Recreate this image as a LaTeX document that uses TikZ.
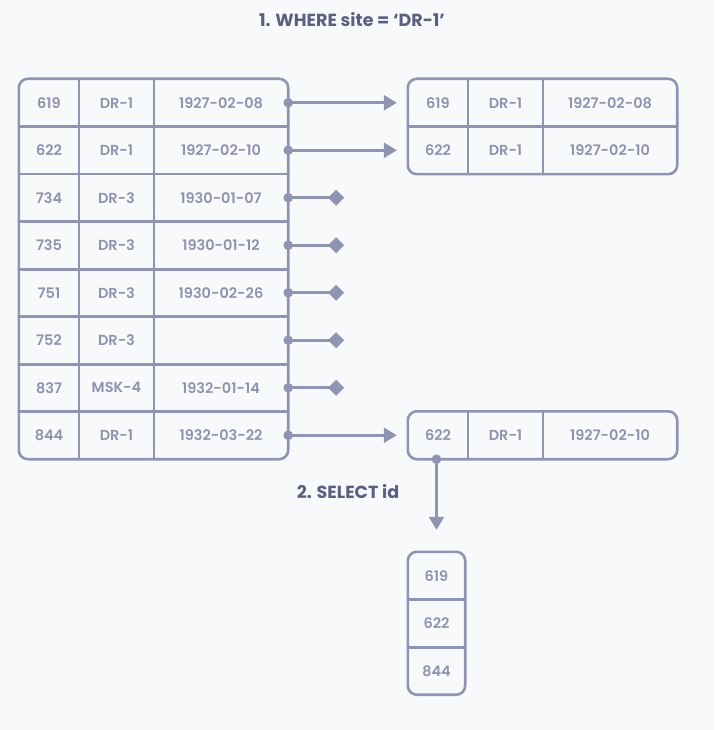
\documentclass[tikz,border=0pt]{standalone}
\usepackage{fontspec}
\setmainfont{Poppins}
\newfontfamily\cellfont{Poppins SemiBold}
\newfontfamily\headfont{Poppins Bold}
\usetikzlibrary{arrows.meta}
\definecolor{TableLine}{HTML}{9094B3}
\definecolor{TableText}{HTML}{8F93AE}
\definecolor{HeadText}{HTML}{5C6080}
\definecolor{PageBg}{HTML}{F8F9FB}

\begin{document}
\begin{tikzpicture}[x=1pt,y=-1pt,line cap=round,line join=round,
  cell/.style={minimum height=47.5pt,inner sep=0pt,text=TableText,font=\cellfont\fontsize{14.5}{17}\selectfont},
  cola/.style={cell,minimum width=60pt},colb/.style={cell,minimum width=75pt},colc/.style={cell,minimum width=134pt},
  grid/.style={draw=TableLine,line width=2.6pt},
  flow/.style={TableLine,line width=2.6pt,-{Triangle[length=13pt,width=15pt]}},
  stop/.style={TableLine,line width=2.6pt,-{Diamond[length=16pt,width=16pt]}},
  head/.style={text=HeadText,font=\headfont\fontsize{17.5}{20}\selectfont}]
  \useasboundingbox[fill=PageBg] (0,0) rectangle (715,730);
  \node[head] (where) at (352,20) {1. WHERE site = ‘DR-1’};
  % source table
  \foreach \id/\site/\day [count=\i, evaluate=\i as \y using 79+47.5*(\i-0.5)] in {619/DR-1/1927-02-08,622/DR-1/1927-02-10,734/DR-3/1930-01-07,735/DR-3/1930-01-12,751/DR-3/1930-02-26,752/DR-3/,837/MSK-4/1932-01-14,844/DR-1/1932-03-22}{
    \node[cola] (L\i-a) at (49,\y) {\id};
    \node[colb] (L\i-b) at (116.5,\y) {\site};
    \node[colc] (L\i-c) at (221,\y) {\day};
  }
  \draw[grid,rounded corners=9pt] (L1-a.north west) rectangle (L8-c.south east);
  \foreach \i in {1,...,7}{\draw[grid] (L\i-a.south west) -- (L\i-c.south east);}
  \draw[grid] (L1-b.north west) -- (L8-b.south west);
  \draw[grid] (L1-c.north west) -- (L8-c.south west);
  % rows kept by WHERE
  \foreach \id/\site/\day/\r/\y in {619/DR-1/1927-02-08/R1/102.75,622/DR-1/1927-02-10/R2/150.25,622/DR-1/1927-02-10/S/435.25}{
    \node[cola] (\r-a) at (438,\y) {\id};
    \node[colb] (\r-b) at (505.5,\y) {\site};
    \node[colc] (\r-c) at (610,\y) {\day};
  }
  \draw[grid,rounded corners=9pt] (R1-a.north west) rectangle (R2-c.south east);
  \draw[grid] (R1-a.south west) -- (R1-c.south east);
  \draw[grid] (R1-b.north west) -- (R2-b.south west);
  \draw[grid] (R1-c.north west) -- (R2-c.south west);
  \draw[grid,rounded corners=9pt] (S-a.north west) rectangle (S-c.south east);
  \draw[grid] (S-b.north west) -- (S-b.south west);
  \draw[grid] (S-c.north west) -- (S-c.south west);
  % connectors
  \draw[flow,shorten >=11pt] (L1-c.east) -- (R1-a.west);
  \draw[flow,shorten >=11pt] (L2-c.east) -- (R2-a.west);
  \draw[flow,shorten >=11pt] (L8-c.east) -- (S-a.west);
  \foreach \i in {3,...,7}{
    \coordinate (D\i) at ([xshift=56pt]L\i-c.east);
    \draw[stop] (L\i-c.east) -- (D\i);
  }
  \foreach \i in {1,...,8}{\fill[TableLine] (L\i-c.east) circle (4.8pt);}
  % SELECT id
  \node[head] (select) at (348,492) {2. SELECT id};
  \foreach \id [count=\i, evaluate=\i as \y using 552+47.5*(\i-0.5)] in {619,622,844}{
    \node[cell,minimum width=57pt] (K\i) at (436.5,\y) {\id};
  }
  \draw[grid,rounded corners=9pt] (K1.north west) rectangle (K3.south east);
  \draw[grid] (K1.south west) -- (K1.south east);
  \draw[grid] (K2.south west) -- (K2.south east);
  \coordinate (P) at ([xshift=-1.5pt]S-a.south);
  \draw[flow,shorten >=22pt] (P) -- (P |- K1.north);
  \fill[TableLine] (P) circle (4.8pt);
\end{tikzpicture}
\end{document}
